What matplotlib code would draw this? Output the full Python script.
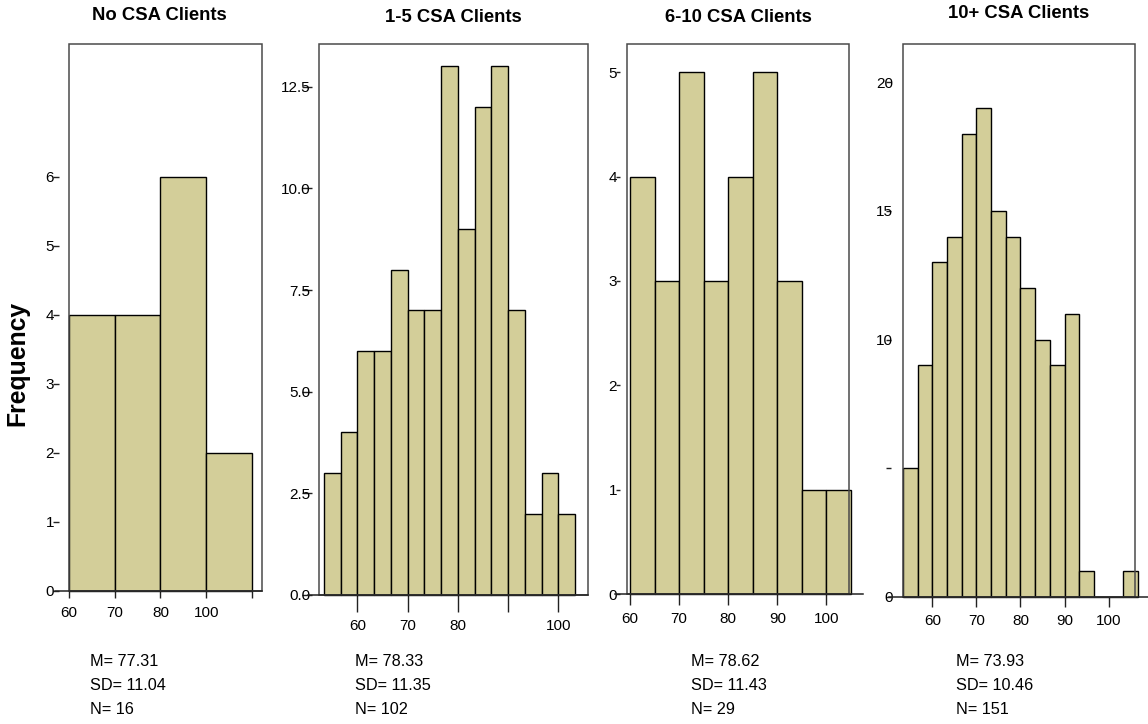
import numpy as np
import matplotlib
matplotlib.use("Agg")
import matplotlib.pyplot as plt
from matplotlib.patches import Rectangle

plt.rcParams["font.family"] = ["Liberation Sans", "DejaVu Sans"]

# ---- data -------------------------------------------------------------
group_titles = ["No CSA Clients", "1-5 CSA Clients", "6-10 CSA Clients", "10+ CSA Clients"]

counts_none = [4, 4, 6, 2]
counts_1_5 = [3, 4, 6, 6, 8, 7, 7, 13, 9, 12, 13, 7, 2, 3, 2]
counts_6_10 = [4, 3, 5, 3, 4, 5, 3, 1, 1]
counts_10_plus = [5, 9, 13, 14, 18, 19, 15, 14, 12, 10, 9, 11, 1, 0, 0, 1]
group_counts = [counts_none, counts_1_5, counts_6_10, counts_10_plus]

bin_start = [60.0, 160 / 3, 60.0, 160 / 3]
bin_width = [10.0, 10 / 3, 5.0, 10 / 3]

x_tick_values = [60, 70, 80, 90, 100]
x_tick_labels = [
    ["60", "70", "80", "100", ""],
    ["60", "70", "80", "", "100"],
    ["60", "70", "80", "90", "100"],
    ["60", "70", "80", "90", "100"],
]
y_tick_values = [
    [0, 1, 2, 3, 4, 5, 6],
    [0, 2.5, 5.0, 7.5, 10.0, 12.5],
    [0, 1, 2, 3, 4, 5],
    [0, 5, 10, 15, 20],
]
y_tick_labels = [
    ["0", "1", "2", "3", "4", "5", "6"],
    ["0.0", "2.5", "5.0", "7.5", "10.0", "12.5"],
    ["0", "1", "2", "3", "4", "5"],
    ["0", "", "10", "15", "20"],
]

means = [77.31, 78.33, 78.62, 73.93]
sds = [11.04, 11.35, 11.43, 10.46]
ns = [16, 102, 29, 151]

# ---- layout (pixels) --------------------------------------------------
W, H = 1148, 724
PT = 72 / 100  # points per pixel at dpi 100

boxes = [(69, 44, 262, 591), (319, 44, 588, 595), (627, 44, 849, 594), (903, 44, 1135, 597)]
xlims = [(60.0, 102.2), (52.34, 105.92), (59.39, 104.59), (53.33, 105.99)]
ylim_top = [7.92, 13.55, 5.27, 21.48]
xtick_len = [7, 17, 11, 10]
xtick_pad = [8, 7, 7, 7]
ytick_offset = [10, 7, 7, 12]
ytick_len = [6, 10, 4, 5]
ytick_pad = [-1, -8, -1, -7]
base_span = [(-0.0725, 1.0), (-0.041, 1.0), (-0.054, 1.063), (-0.060, 1.056)]
title_pos = [(159, 15), (453, 17), (738, 17), (1019, 14)]
stats_x = [90, 355, 691, 956]
stats_y = [662, 686, 709]

bar_color = "#d3ce99"
box_color = "#4a4a4a"

fig = plt.figure(figsize=(W / 100, H / 100), dpi=100)
fig.patch.set_facecolor("white")

for i in range(4):
    l, t, r, b = boxes[i]
    ax = fig.add_axes([l / W, 1 - b / H, (r - l) / W, (b - t) / H])
    ax.set_facecolor("white")

    counts = np.asarray(group_counts[i], dtype=float)
    edges = bin_start[i] + bin_width[i] * np.arange(len(counts) + 1)
    ax.bar(edges[:-1], counts, width=np.diff(edges), align="edge",
           color=bar_color, edgecolor="black", linewidth=1.0, clip_on=False, zorder=2)

    ax.set_xlim(*xlims[i])
    ax.set_ylim(0, ylim_top[i])

    for s in ax.spines.values():
        s.set_visible(False)
    ax.spines["left"].set_position(("outward", ytick_offset[i] * PT))

    # frame around the plotting area
    ax.add_patch(Rectangle((0, 0), 1, 1, transform=ax.transAxes, fill=False,
                           edgecolor=box_color, linewidth=1.1, clip_on=False, zorder=3))
    # zero line, running a little past the frame
    ax.axhline(0, xmin=base_span[i][0], xmax=base_span[i][1], color="#222222",
               linewidth=1.1, clip_on=False, zorder=4)

    ax.set_xticks(x_tick_values)
    ax.set_xticklabels(x_tick_labels[i])
    ax.set_yticks(y_tick_values[i])
    ax.set_yticklabels(y_tick_labels[i])
    ax.tick_params(axis="x", direction="out", length=xtick_len[i] * PT,
                   width=1.0, pad=xtick_pad[i] * PT, labelsize=11, color="#222222")
    ax.tick_params(axis="y", direction="out", length=ytick_len[i] * PT,
                   width=1.0, pad=ytick_pad[i] * PT, labelsize=11, color="#222222")
    ax.tick_params(top=False, right=False)

    tx, ty = title_pos[i]
    fig.text(tx / W, 1 - ty / H, group_titles[i], ha="center", va="center",
             fontsize=13.3, fontweight="bold")

    lines = [f"M= {means[i]:.2f}", f"SD= {sds[i]:.2f}", f"N= {ns[i]}"]
    for line, yy in zip(lines, stats_y):
        fig.text(stats_x[i] / W, 1 - yy / H, line, ha="left", va="center", fontsize=11.7)

fig.text(17 / W, 1 - 363 / H, "Frequency", rotation=90, ha="center", va="center",
         fontsize=17.8, fontweight="bold")

fig.savefig("out.png", dpi=100)
